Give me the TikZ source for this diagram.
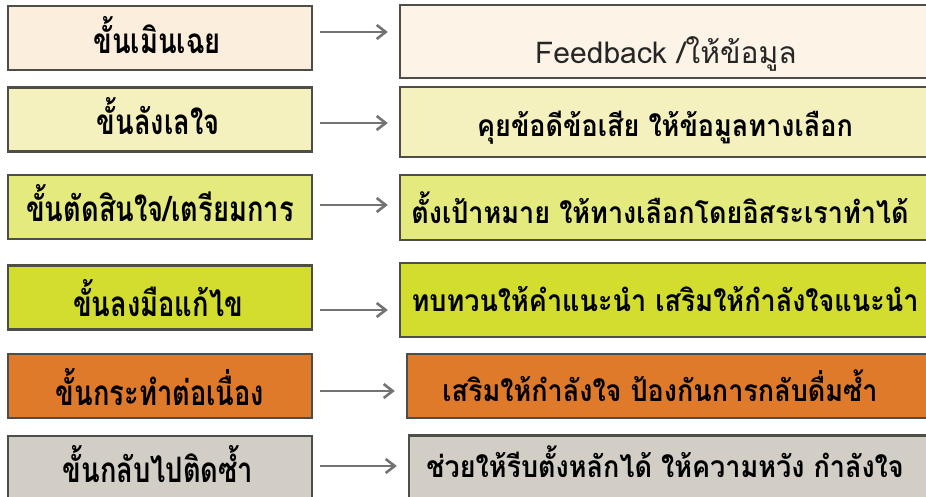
\documentclass[tikz,border=0pt]{standalone}
\usepackage{fontspec}
\usepackage{tikz}
\usetikzlibrary{arrows.meta}
\newfontfamily\thaifont[Script=Thai]{Loma}
\newfontfamily\thainarrow[Script=Thai,FakeStretch=0.78]{Loma}
\newfontfamily\thaiwide[Script=Thai,FakeStretch=0.9]{Loma}

\definecolor{peach}{HTML}{FCEEDC}
\definecolor{cream}{HTML}{F5F1BF}
\definecolor{lime}{HTML}{E5EA7F}
\definecolor{olive}{HTML}{D2DD2D}
\definecolor{carrot}{HTML}{E07A2B}
\definecolor{stone}{HTML}{D2CEC6}
\definecolor{rim}{HTML}{4E4E48}

\tikzset{
  stagebox/.style={draw=rim, line width=1.2pt, minimum width=152pt, minimum height=32pt, inner sep=0pt},
  stagetext/.style={inner sep=0pt, text height=10pt, text depth=0pt,
    font=\thainarrow\bfseries\fontsize{17.5}{20}\selectfont},
  tipbox/.style={draw=rim, line width=1.2pt, minimum height=32pt, inner sep=0pt},
  tiptext/.style={inner sep=0pt, text height=7.6pt, text depth=0pt,
    font=\thaiwide\bfseries\fontsize{15}{18}\selectfont},
  link/.style={draw=gray!90!black, line width=1.3pt, -{Straight Barb[length=4.5pt,width=7pt,line width=1.3pt]},
    shorten <=3.5pt, shorten >=5.5pt}
}

\begin{document}
\begin{tikzpicture}[x=0.5pt,y=-0.5pt]
            \useasboundingbox (0,0) rectangle (926,497);
            \clip (0,0) rectangle (926,497);
            % left column
            \node[stagebox, fill=peach] (l1) at (160,38) {};
            \node[stagebox, fill=cream] (l2) at (160,119.5) {};
            \node[stagebox, fill=lime] (l3) at (160,207) {};
            \node[stagebox, fill=olive] (l4) at (160,297.5) {};
            \node[stagebox, fill=carrot] (l5) at (160,386) {};
            \node[stagebox, fill=stone] (l6) at (160,468) {};
            \node[stagetext] (s1) at (157,44) {ขั้นเมินเฉย};
            \node[stagetext] (s2) at (158,125) {ขั้นลังเลใจ};
            \node[stagetext] (s3) at (160,212) {ขั้นตัดสินใจ/เตรียมการ};
            \node[stagetext] (s4) at (158,306) {ขั้นลงมือแก้ไข};
            \node[stagetext] (s5) at (160,395) {ขั้นกระทำต่อเนื่อง};
            \node[stagetext] (s6) at (158,472) {ขั้นกลับไปติดซ้ำ};
            % right column
            \node[tipbox, fill=peach!70!white, minimum width=270pt, minimum height=36.5pt] (r1) at (670,41.5) {};
            \node[tipbox, fill=cream, minimum width=270pt, minimum height=35pt] (r2) at (670,122) {};
            \node[tipbox, fill=lime, minimum width=270pt, minimum height=32.5pt] (r3) at (670,207.5) {};
            \node[tipbox, fill=olive, minimum width=270pt, minimum height=37pt] (r4) at (670,300) {};
            \node[tipbox, fill=carrot, minimum width=266.5pt] (r5) at (673.5,386) {};
            \node[tipbox, fill=stone, minimum width=265.5pt] (r6) at (674.5,467.5) {};
            \node[inner sep=0pt, text height=10pt, text depth=0pt,
              font=\thaifont\fontsize{15}{17}\selectfont, text=black!85] (t1) at (666,53.5) {Feedback /ให้ข้อมูล};
            \node[tiptext] (t2) at (665,129) {คุยข้อดีข้อเสีย ให้ข้อมูลทางเลือก};
            \node[tiptext] (t3) at (660,216) {ตั้งเป้าหมาย ให้ทางเลือกโดยอิสระเราทำได้};
            \node[tiptext] (t4) at (665,304) {ทบทวนให้คำแนะนำ เสริมให้กำลังใจแนะนำ};
            \node[tiptext] (t5) at (660,394) {เสริมให้กำลังใจ ป้องกันการกลับดื่มซ้ำ};
            \node[tiptext] (t6) at (665,470) {ช่วยให้รีบตั้งหลักได้ ให้ความหวัง กำลังใจ};
            % arrows
            \draw[link] ([yshift=3pt]l1.east) -- ([yshift=3pt]l1.east -| r1.west);
            \draw[link] ([yshift=-1.75pt]l2.east) -- ([yshift=-1.75pt]l2.east -| r2.west);
            \draw[link] ([yshift=1pt]l3.east) -- ([yshift=1pt]l3.east -| r3.west);
            \draw[link] ([yshift=-6.25pt]l4.east) -- ([yshift=-6.25pt]l4.east -| r4.west);
            \draw[link] ([yshift=-2.5pt]l5.east) -- ([yshift=-2.5pt]l5.east -| r5.west);
            \draw[link] ([yshift=1pt]l6.east) -- ([yshift=1pt]l6.east -| r6.west);
        \end{tikzpicture}
\end{document}
